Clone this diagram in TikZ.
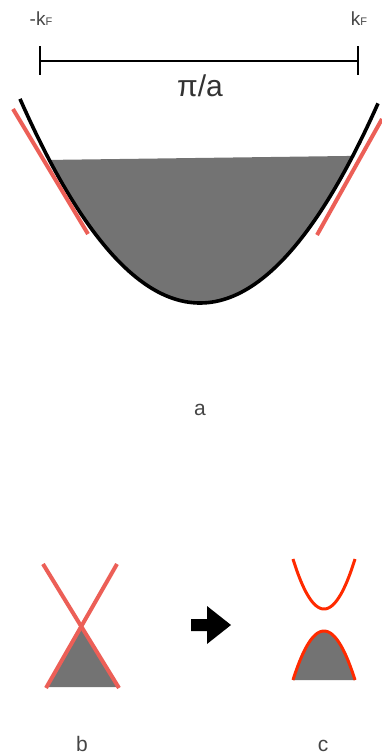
\documentclass[tikz,border=0pt]{standalone}
\usepackage{fontspec}
\setmainfont{Liberation Sans}
\usetikzlibrary{positioning}
\definecolor{tanred}{HTML}{EC5F57}
\definecolor{gapred}{HTML}{FF2A00}
\definecolor{sea}{HTML}{737373}
\definecolor{inkgray}{HTML}{454545}
\tikzset{
  klabel/.style={text=inkgray, inner sep=0pt, anchor=base, font=\fontsize{19}{21}\selectfont},
  panel/.style={text=inkgray, inner sep=0pt, anchor=base, font=\fontsize{21}{23}\selectfont},
  band/.style={draw=black, line width=3.6pt},
  tangent/.style={draw=tanred, line width=4pt},
  gapband/.style={draw=gapred, line width=3pt},
  filled/.style={fill=sea},
}
\newcommand{\subF}{{\fontsize{11}{11}\selectfont F}}

\begin{document}
\begin{tikzpicture}[x=1pt, y=-1pt]
  \useasboundingbox (0,0) rectangle (381,756);
  % width of the Fermi sea
  \node[klabel] (kminus) at (41,25) {-k\subF};
  \node[klabel] (kplus) at (359,25) {k\subF};
  \coordinate (barL) at (40,61);
  \coordinate (barR) at (358,61);
  \draw[line width=2.4pt] (barL) -- (barR);
  \foreach \x in {40, 358} \draw[line width=2.4pt] (\x,46) -- (\x,75);
  \node[text=black!80, inner sep=0pt, anchor=base, font=\fontsize{30}{32}\selectfont] (pia) at (200,96) {π/a};
  % filled band
  \fill[filled] plot[domain=49.3:352.8, samples=80] (\x, {303-63*((\x-200)/100)^2}) -- cycle;
  \draw[band] plot[domain=20:378, samples=100] (\x, {303-63*((\x-200)/100)^2});
  \draw[tangent] (13,109) -- (88,234);
  \draw[tangent] (382,119) -- (317,235);
  \node[panel] (lbla) at (200,415) {a};
  % b: linear crossing
  \fill[filled] (81,627) -- (118,687) -- (48,687) -- cycle;
  \draw[tangent] (43,564) -- (119,688);
  \draw[tangent] (117,564) -- (46,688);
  \node[panel] (lblb) at (82,751) {b};
  % arrow
  \fill[black] (191,619) -- (207,619) -- (207,606) -- (231,625) -- (207,644) -- (207,631) -- (191,631) -- cycle;
  % c: gapped bands
  \draw[gapband] plot[domain=293:355, samples=40] (\x, {609-50*((\x-324)/31)^2});
  \fill[filled] plot[domain=293:355, samples=40] (\x, {631+49*((\x-324)/31)^2}) -- cycle;
  \draw[gapband] plot[domain=293:355, samples=40] (\x, {631+49*((\x-324)/31)^2});
  \node[panel] (lblc) at (323,751) {c};
\end{tikzpicture}
\end{document}
